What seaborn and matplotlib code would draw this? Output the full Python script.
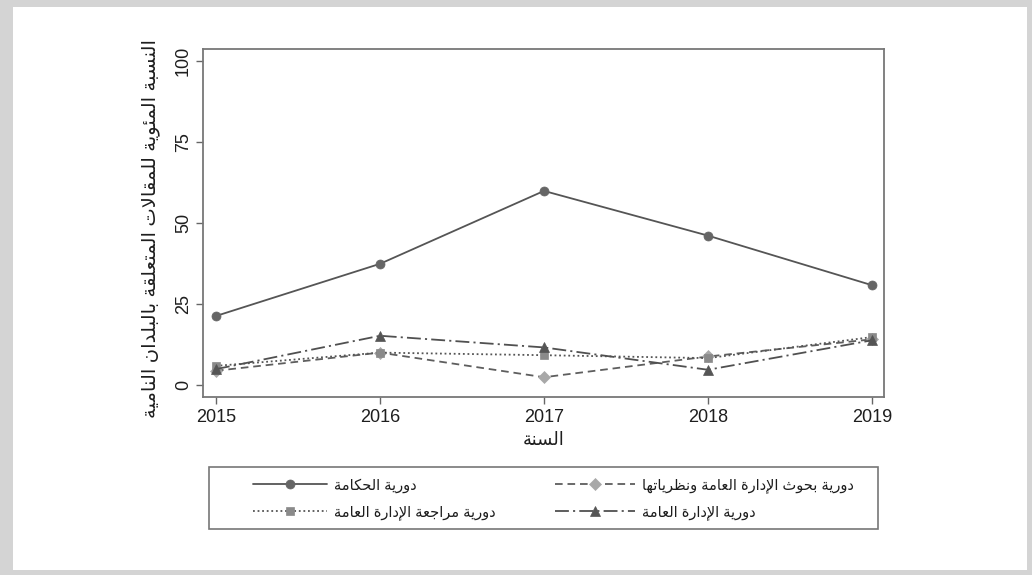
import numpy as np
import pandas as pd
import seaborn as sns
import matplotlib.pyplot as plt
from matplotlib.patches import Rectangle

# data
years = [2015, 2016, 2017, 2018, 2019]
hakama = [21.3, 37.4, 59.9, 46.1, 30.8]          # solid, circle
buhuth = [4.4, 10.0, 2.4, 8.8, 14.1]             # dashed, diamond
muraja = [5.9, 10.0, 9.2, 8.3, 14.8]             # dotted, square
idara = [4.9, 15.2, 11.6, 4.7, 13.8]             # dash-dot, triangle

y_ticks = [0, 25, 50, 75, 100]

label_hakama = "دورية الحكامة"
label_buhuth = "دورية بحوث الإدارة العامة ونظرياتها"
label_muraja = "دورية مراجعة الإدارة العامة"
label_idara = "دورية الإدارة العامة"
x_title = "السنة"
y_title = "النسبة المئوية للمقالات المتعلقة بالبلدان النامية"

# --- minimal Arabic shaping (matplotlib has no shaping / bidi) ---
AR_FORMS = {
    'ء': (0xFE80, 1), 'آ': (0xFE81, 2), 'أ': (0xFE83, 2), 'ؤ': (0xFE85, 2),
    'إ': (0xFE87, 2), 'ئ': (0xFE89, 4), 'ا': (0xFE8D, 2), 'ب': (0xFE8F, 4),
    'ة': (0xFE93, 2), 'ت': (0xFE95, 4), 'ث': (0xFE99, 4), 'ج': (0xFE9D, 4),
    'ح': (0xFEA1, 4), 'خ': (0xFEA5, 4), 'د': (0xFEA9, 2), 'ذ': (0xFEAB, 2),
    'ر': (0xFEAD, 2), 'ز': (0xFEAF, 2), 'س': (0xFEB1, 4), 'ش': (0xFEB5, 4),
    'ص': (0xFEB9, 4), 'ض': (0xFEBD, 4), 'ط': (0xFEC1, 4), 'ظ': (0xFEC5, 4),
    'ع': (0xFEC9, 4), 'غ': (0xFECD, 4), 'ف': (0xFED1, 4), 'ق': (0xFED5, 4),
    'ك': (0xFED9, 4), 'ل': (0xFEDD, 4), 'م': (0xFEE1, 4), 'ن': (0xFEE5, 4),
    'ه': (0xFEE9, 4), 'و': (0xFEED, 2), 'ى': (0xFEEF, 2), 'ي': (0xFEF1, 4),
}
LAM_ALEF = {'آ': 0xFEF5, 'أ': 0xFEF7, 'إ': 0xFEF9, 'ا': 0xFEFB}


def shape_ar(text):
    chars = list(text)
    n = len(chars)
    out = []
    i = 0
    while i < n:
        c = chars[i]
        if c not in AR_FORMS:
            out.append(c)
            i += 1
            continue
        prev = chars[i - 1] if i > 0 else None
        link_prev = prev in AR_FORMS and AR_FORMS[prev][1] == 4
        if c == 'ل' and i + 1 < n and chars[i + 1] in LAM_ALEF:
            out.append(chr(LAM_ALEF[chars[i + 1]] + (1 if link_prev else 0)))
            i += 2
            continue
        base, nforms = AR_FORMS[c]
        nxt = chars[i + 1] if i + 1 < n else None
        link_next = nforms == 4 and nxt in AR_FORMS
        if link_prev and link_next:
            code = base + 3
        elif link_prev:
            code = base + 1
        elif link_next:
            code = base + 2
        else:
            code = base
        out.append(chr(code))
        i += 1
    return ''.join(reversed(out))


sns.set_style("white")
plt.rcParams['font.family'] = ['Liberation Sans', 'DejaVu Sans']
plt.rcParams['lines.scale_dashes'] = False

W, H = 1032, 575
fig = plt.figure(figsize=(W / 100, H / 100), dpi=100)
fig.patch.set_facecolor('#d4d4d4')
fig.add_artist(Rectangle((13 / W, 5 / H), 1014 / W, 563 / H, transform=fig.transFigure,
                         facecolor='white', edgecolor='none', zorder=-10))

ax = fig.add_axes([203 / W, 1 - 397 / H, (884 - 203) / W, (397 - 49) / H])

series = [
    (label_hakama, hakama, dict(color='#555555', linestyle='-', marker='o', markersize=6.5,
                                markerfacecolor='#666666', markeredgecolor='#666666')),
    (label_buhuth, buhuth, dict(color='#5e5e5e', linestyle=(0, (5.5, 3.5)), marker='D', markersize=6,
                                markerfacecolor='#a8a8a8', markeredgecolor='#a8a8a8')),
    (label_muraja, muraja, dict(color='#555555', linestyle=(0, (1.3, 2.0)), marker='s', markersize=6,
                                markerfacecolor='#8a8a8a', markeredgecolor='#8a8a8a')),
    (label_idara, idara, dict(color='#505050', linestyle=(0, (10, 3, 1.5, 3)), marker='^', markersize=7,
                              markerfacecolor='#555555', markeredgecolor='#555555')),
]

handles = {}
for name, vals, style in series:
    df = pd.DataFrame({'year': years, 'value': vals})
    sns.lineplot(data=df, x='year', y='value', ax=ax, linewidth=1.3,
                 markeredgewidth=0.5, label=shape_ar(name), legend=False, **style)
    handles[name] = ax.lines[-1]

ax.set_xlim(2015 - 0.079, 2019 + 0.073)
ax.set_ylim(-3.7, 103.7)
ax.set_xticks(years)
ax.set_xticklabels([str(y) for y in years])
ax.set_yticks(y_ticks)
ax.set_yticklabels([str(v) for v in y_ticks])
ax.tick_params(axis='both', which='both', length=5, width=1, color='#666666',
               labelsize=13, labelcolor='#1e1e1e', direction='out', bottom=True, left=True)
ax.tick_params(axis='x', pad=3.5)
ax.tick_params(axis='y', pad=3, labelrotation=90)
for t in ax.get_yticklabels():
    t.set_va('center')

for s in ax.spines.values():
    s.set_visible(True)
    s.set_color('#777777')
    s.set_linewidth(1.3)

ax.set_xlabel(shape_ar(x_title), fontsize=13, color='#1e1e1e', va='center')
ax.xaxis.set_label_coords(0.5, -0.124)
ax.set_ylabel(shape_ar(y_title), fontsize=14, color='#1e1e1e', va='center')
ax.yaxis.set_label_coords(-0.077, 0.485)

# legend box drawn separately, two legends for the two columns
fig.add_artist(Rectangle((209 / W, 1 - 529 / H), (878 - 209) / W, (529 - 467) / H,
                         transform=fig.transFigure, facecolor='white',
                         edgecolor='#777777', linewidth=1.2, zorder=1))
leg_kw = dict(loc='upper left', frameon=False, borderpad=0, borderaxespad=0,
              handletextpad=0.45, fontsize=10.5, labelspacing=0.85, labelcolor='#1e1e1e')
leg1 = fig.legend([handles[label_hakama], handles[label_muraja]],
                  [shape_ar(label_hakama), shape_ar(label_muraja)],
                  bbox_to_anchor=(253 / W, 1 - 478 / H), handlelength=5.1, **leg_kw)
leg2 = fig.legend([handles[label_buhuth], handles[label_idara]],
                  [shape_ar(label_buhuth), shape_ar(label_idara)],
                  bbox_to_anchor=(555 / W, 1 - 478 / H), handlelength=5.5, **leg_kw)
leg1.set_zorder(5)
leg2.set_zorder(5)

fig.savefig('out.png', dpi=100, facecolor=fig.get_facecolor())
